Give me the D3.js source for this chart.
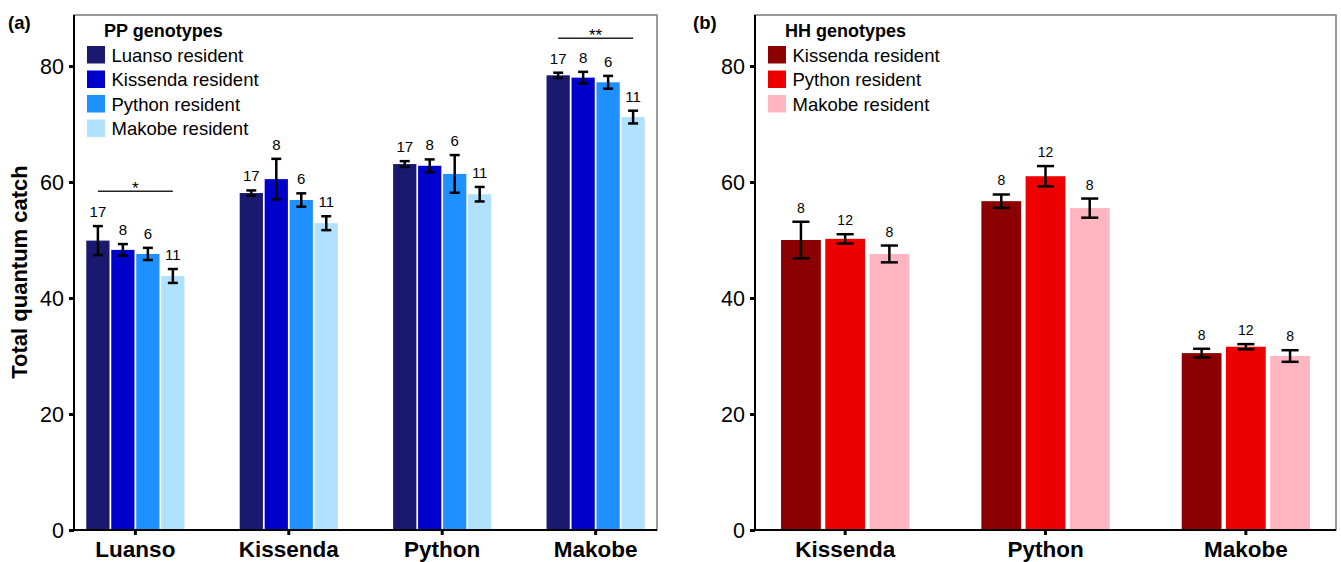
<!DOCTYPE html>
<html><head><meta charset="utf-8">
<script src="https://cdn.jsdelivr.net/npm/d3@7"></script>
<style>
body{margin:0;background:#fff;}
svg{display:block;font-family:"Liberation Sans",Arial,Helvetica,sans-serif;}
</style></head>
<body><svg id="chart" width="1341" height="562"></svg>
<script>
// ---------- DATA ----------
// Panel (a): PP genotypes
const ppCategories = ["Luanso", "Kissenda", "Python", "Makobe"];
const ppSeries = ["Luanso resident", "Kissenda resident", "Python resident", "Makobe resident"];
const ppColors = ["#191970", "#0000CD", "#1E90FF", "#B0E2FF"];
const ppLuansoRes   = [49.9, 58.1, 63.1, 78.4];
const ppKissendaRes = [48.3, 60.5, 62.8, 78.0];
const ppPythonRes   = [47.6, 56.9, 61.4, 77.2];
const ppMakobeRes   = [43.8, 52.9, 57.9, 71.2];
const ppLuansoSE   = [2.5, 0.45, 0.5, 0.45];
const ppKissendaSE = [1.0, 3.5, 1.1, 1.0];
const ppPythonSE   = [1.05, 1.15, 3.25, 1.1];
const ppMakobeSE   = [1.2, 1.2, 1.25, 1.1];
const ppN = [17, 8, 6, 11];
const ppSigGroups = ["Luanso", "Makobe"];
const ppSigLabels = ["*", "**"];
const ppSigY = [58.4, 84.8];

// Panel (b): HH genotypes
const hhCategories = ["Kissenda", "Python", "Makobe"];
const hhSeries = ["Kissenda resident", "Python resident", "Makobe resident"];
const hhColors = ["#8B0000", "#EE0000", "#FFB6C1"];
const hhKissendaRes = [50.0, 56.7, 30.5];
const hhPythonRes   = [50.2, 61.0, 31.6];
const hhMakobeRes   = [47.6, 55.5, 30.0];
const hhKissendaSE = [3.15, 1.15, 0.75];
const hhPythonSE   = [0.8, 1.75, 0.45];
const hhMakobeSE   = [1.45, 1.65, 1.0];
const hhN = [8, 12, 8];

const yTicks = [0, 20, 40, 60, 80];

// ---------- DRAW ----------
const svg = d3.select("#chart");

function panel(opts) {
  const {left, right, top, bottom, cats, series, colors, means, ses, ns,
         outerPad, innerPad, legendTitle, legendX, panelLabel, panelLabelX,
         nFont, sig} = opts;
  const g = svg.append("g");
  const y = d3.scaleLinear().domain([0, 88.8]).range([bottom, top]);
  const x0 = d3.scaleBand().domain(cats).range([left, right]).paddingInner(0.36).paddingOuter(outerPad);
  const x1 = d3.scaleBand().domain(series).range([0, x0.bandwidth()]).paddingInner(innerPad).paddingOuter(0);

  g.append("rect").attr("x", left).attr("y", top).attr("width", right - left).attr("height", bottom - top)
    .attr("fill", "none").attr("stroke", "#7a7a7a").attr("stroke-width", 1.5);

  const rows = [];
  series.forEach((s, si) => {
    cats.forEach((c, ci) => {
      rows.push({cat: c, ser: s, si, v: means[si][ci], se: ses[si][ci], n: ns[si]});
    });
  });

  g.selectAll("rect.bar").data(rows).enter().append("rect").attr("class", "bar")
    .attr("x", d => x0(d.cat) + x1(d.ser))
    .attr("width", x1.bandwidth())
    .attr("y", d => y(d.v))
    .attr("height", d => y(0) - y(d.v))
    .attr("fill", d => colors[d.si]);

  const capW = x1.bandwidth() * 0.43;
  const eb = g.selectAll("g.eb").data(rows).enter().append("g").attr("class", "eb")
    .attr("stroke", "#000").attr("stroke-width", 2.5);
  const cx = d => x0(d.cat) + x1(d.ser) + x1.bandwidth() / 2;
  eb.append("line").attr("x1", cx).attr("x2", cx).attr("y1", d => y(d.v + d.se)).attr("y2", d => y(d.v - d.se));
  eb.append("line").attr("x1", d => cx(d) - capW / 2).attr("x2", d => cx(d) + capW / 2)
    .attr("y1", d => y(d.v + d.se)).attr("y2", d => y(d.v + d.se));
  eb.append("line").attr("x1", d => cx(d) - capW / 2).attr("x2", d => cx(d) + capW / 2)
    .attr("y1", d => y(d.v - d.se)).attr("y2", d => y(d.v - d.se));

  g.selectAll("text.n").data(rows).enter().append("text").attr("class", "n")
    .attr("x", cx).attr("y", d => y(d.v + d.se) - 9)
    .attr("text-anchor", "middle").attr("font-size", nFont).attr("fill", "#000")
    .text(d => d.n);

  if (sig) {
    sig.groups.forEach((grp, i) => {
      const xa = x0(grp) + x1(series[0]) + x1.bandwidth() / 2;
      const xb = x0(grp) + x1(series[series.length - 1]) + x1.bandwidth() / 2;
      g.append("line").attr("x1", xa).attr("x2", xb).attr("y1", y(sig.ys[i])).attr("y2", y(sig.ys[i]))
        .attr("stroke", "#222").attr("stroke-width", 1.5);
      g.append("text").attr("x", (xa + xb) / 2).attr("y", y(sig.ys[i]) + 3)
        .attr("text-anchor", "middle").attr("font-size", 17).text(sig.labels[i]);
    });
  }

  const yAxis = d3.axisLeft(y).tickValues(yTicks).tickSize(5).tickPadding(5);
  const ya = g.append("g").attr("transform", `translate(${left},0)`).call(yAxis);
  ya.select(".domain").attr("stroke", "#000").attr("stroke-width", 2).attr("d", `M0,${top}V${bottom}`);
  ya.selectAll(".tick line").attr("stroke", "#000").attr("stroke-width", 3);
  ya.selectAll(".tick text").attr("font-size", 21.5).attr("fill", "#000").attr("font-family", "Liberation Sans, Arial, sans-serif").attr("dy", "0.36em");

  const xAxis = d3.axisBottom(x0).tickSize(5).tickPadding(4);
  const xa = g.append("g").attr("transform", `translate(0,${bottom})`).call(xAxis);
  xa.select(".domain").attr("stroke", "#000").attr("stroke-width", 2).attr("d", `M${left - 1},0H${right}`);
  xa.selectAll(".tick line").attr("stroke", "#000").attr("stroke-width", 3);
  xa.selectAll(".tick text").attr("font-size", 22.5).attr("font-weight", "bold").attr("fill", "#000")
    .attr("font-family", "Liberation Sans, Arial, sans-serif").attr("dy", "0.78em");

  const lg = g.append("g");
  lg.append("text").attr("x", legendX + 17).attr("y", 37).attr("font-size", 18).attr("font-weight", "bold").text(legendTitle);
  series.forEach((s, i) => {
    const yy = 46 + i * 24.5;
    lg.append("rect").attr("x", legendX).attr("y", yy).attr("width", 18).attr("height", 17.5).attr("fill", colors[i]);
    lg.append("text").attr("x", legendX + 24.5).attr("y", yy + 15.5).attr("font-size", 18.5).text(s);
  });

  g.append("text").attr("x", panelLabelX).attr("y", 29).attr("font-size", 18.5).attr("font-weight", "bold").text(panelLabel);
}

panel({
  left: 74, right: 657, top: 15, bottom: 530,
  cats: ppCategories, series: ppSeries, colors: ppColors,
  means: [ppLuansoRes, ppKissendaRes, ppPythonRes, ppMakobeRes],
  ses: [ppLuansoSE, ppKissendaSE, ppPythonSE, ppMakobeSE],
  ns: ppN, outerPad: 0.08, innerPad: 0.07,
  legendTitle: "PP genotypes", legendX: 87, panelLabel: "(a)", panelLabelX: 8,
  nFont: 15, sig: {groups: ppSigGroups, labels: ppSigLabels, ys: ppSigY}
});

panel({
  left: 755, right: 1336, top: 15, bottom: 530,
  cats: hhCategories, series: hhSeries, colors: hhColors,
  means: [hhKissendaRes, hhPythonRes, hhMakobeRes],
  ses: [hhKissendaSE, hhPythonSE, hhMakobeSE],
  ns: hhN, outerPad: 0.13, innerPad: 0.1,
  legendTitle: "HH genotypes", legendX: 768, panelLabel: "(b)", panelLabelX: 693,
  nFont: 14, sig: null
});

svg.append("text").attr("transform", "translate(27,272) rotate(-90)").attr("text-anchor", "middle")
  .attr("font-size", 22).attr("font-weight", "bold").text("Total quantum catch");
</script>
</body></html>
